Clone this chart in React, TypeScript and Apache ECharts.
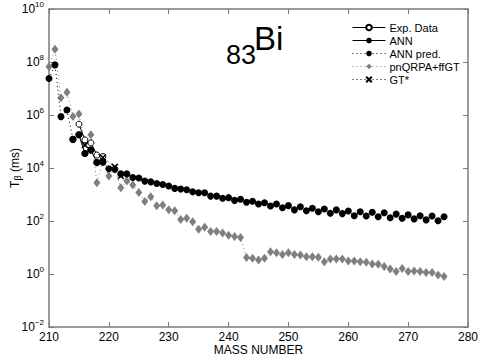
import React, { useEffect, useRef } from "react";
import * as echarts from "echarts";

const massAll = [
  210, 211, 212, 213, 214, 215, 216, 217, 218, 219, 220, 221, 222, 223, 224, 225, 226, 227, 228, 229,
  230, 231, 232, 233, 234, 235, 236, 237, 238, 239, 240, 241, 242, 243, 244, 245, 246, 247, 248, 249,
  250, 251, 252, 253, 254, 255, 256, 257, 258, 259, 260, 261, 262, 263, 264, 265, 266, 267, 268, 269,
  270, 271, 272, 273, 274, 275, 276,
];

const annPred = [
  2.4e7, 7.8e7, 8.7e5, 1.55e6, 1.2e5, 1.8e5, 3.5e4, 4.8e4, 1.6e4, 1.7e4, 9.3e3, 8.9e3, 6.0e3, 6.0e3,
  4.4e3, 4.2e3, 3.2e3, 3.0e3, 2.6e3, 2.4e3, 2.1e3, 1.7e3, 1.6e3, 1.5e3, 1.26e3, 1.17e3, 1.17e3, 870,
  870, 720, 760, 600, 660, 510, 560, 440, 490, 370, 440, 316, 380, 263, 347, 245, 302, 224, 282, 195,
  263, 190, 240, 158, 224, 155, 214, 145, 204, 132, 182, 126, 170, 120, 158, 110, 155, 102, 145,
];

const pnqrpa = [
  6.6e7, 3.0e8, 4.5e6, 7.2e6, 8.7e5, 1.1e6, 8.5e4, 1.8e5, 2.8e3, 2.0e4, 5.0e3, 8.9e3, 1.8e3, 3.2e3,
  2.3e3, 1.2e3, 540, 830, 380, 400, 263, 245, 115, 126, 93, 49, 58, 40, 40, 35, 29, 26, 24, 4.2, 3.9,
  3.4, 3.9, 6.9, 6.3, 5.5, 6.3, 5.5, 5.2, 4.5, 4.5, 4.3, 2.9, 3.7, 3.7, 3.7, 3.1, 3.1, 2.9, 2.75, 2.4,
  2.35, 1.9, 1.55, 1.23, 1.6, 1.23, 1.3, 1.23, 1.15, 1.15, 0.91, 0.8,
];

const massKnown = [214, 215, 216, 217, 218, 219];
const annKnown = [1.2e5, 1.8e5, 3.5e4, 4.8e4, 1.6e4, 1.7e4];

const massExp = [215, 216, 217, 218, 219];
const expData = [4.5e5, 1.15e5, 8.9e4, 3.1e4, 2.7e4];

const massGT = [216, 219, 221, 222];
const gtStar = [7.4e4, 2.5e4, 1.1e4, 5.0e3];

const xTicks = [210, 220, 230, 240, 250, 260, 270, 280];

const FONT = "'Liberation Sans', Arial, Helvetica, sans-serif";
const AXIS_GRAY = "#7a7a7a";
const MARK_GRAY = "#7f7f7f";

const pair = (xs: number[], ys: number[]) => xs.map((x, i) => [x, ys[i]]);

const supLabel = (v: number) => {
  const e = Math.round(Math.log10(v));
  const s = e < 0 ? "\u2212" + Math.abs(e) : String(e);
  return `{b|10}{s|${s}}`;
};

export default function App() {
  const ref = useRef<HTMLDivElement>(null);
  useEffect(() => {
    if (!ref.current) return;
    const chart = echarts.init(ref.current, undefined, { renderer: "svg" });
    const axisCommon = {
      axisLine: { show: true, onZero: false, lineStyle: { color: AXIS_GRAY, width: 1.5 } },
      axisTick: { show: true, inside: true, length: 5, lineStyle: { color: AXIS_GRAY, width: 1 } },
      splitLine: { show: false },
    };
    chart.setOption({
      animation: false,
      backgroundColor: "#ffffff",
      textStyle: { fontFamily: FONT },
      grid: { left: 49, right: 10, top: 9, bottom: 32, containLabel: false, outerBoundsMode: "none" },
      legend: {
        orient: "vertical",
        left: 347,
        top: 17,
        itemWidth: 33,
        itemHeight: 7,
        itemGap: 2,
        lineStyle: { width: 1 },
        textStyle: { fontFamily: FONT, fontSize: 11, color: "#000", lineHeight: 11, padding: [0, 0, 0, -1] },
        data: ["Exp. Data", "ANN", "ANN pred.", "pnQRPA+ffGT", "GT*"],
      },
      xAxis: [
        {
          type: "value",
          min: xTicks[0],
          max: xTicks[xTicks.length - 1],
          interval: 10,
          position: "bottom",
          name: "MASS NUMBER",
          nameLocation: "middle",
          nameGap: 17,
          nameMoveOverlap: false,
          nameTextStyle: { fontFamily: FONT, fontSize: 12, color: "#000" },
          axisLabel: { fontFamily: FONT, fontSize: 12, color: "#000", margin: 4 },
          ...axisCommon,
        },
        {
          type: "value",
          min: xTicks[0],
          max: xTicks[xTicks.length - 1],
          interval: 10,
          position: "top",
          axisLabel: { show: false },
          ...axisCommon,
        },
      ],
      yAxis: [
        {
          type: "log",
          logBase: 10,
          min: 0.01,
          max: 1e10,
          interval: 2,
          position: "left",
          name: "{a|T}{c|\u03b2}{a| (ms)}",
          nameLocation: "middle",
          nameGap: 27,
          nameMoveOverlap: false,
          nameRotate: 90,
          nameTextStyle: {
            fontFamily: FONT,
            color: "#000",
            rich: {
              a: { fontFamily: FONT, fontSize: 12, color: "#000" },
              c: { fontFamily: FONT, fontSize: 9, color: "#000", padding: [6, 0, 0, 0] },
            },
          },
          axisLabel: {
            margin: 5,
            formatter: supLabel,
            rich: {
              b: { fontFamily: FONT, fontSize: 12, color: "#000" },
              s: { fontFamily: FONT, fontSize: 8, color: "#000", padding: [0, 0, 9, 0] },
            },
          },
          ...axisCommon,
        },
        {
          type: "log",
          logBase: 10,
          min: 0.01,
          max: 1e10,
          interval: 2,
          position: "right",
          axisLabel: { show: false },
          ...axisCommon,
        },
      ],
      graphic: [
        {
          type: "text",
          left: 226,
          top: 41,
          style: { text: "83", font: `27px ${FONT}`, fill: "#000" },
        },
        {
          type: "text",
          left: 254,
          top: 22,
          style: { text: "Bi", font: `33px ${FONT}`, fill: "#000" },
        },
      ],
      series: [
        {
          name: "pnQRPA+ffGT",
          type: "line",
          data: pair(massAll, pnqrpa),
          symbol: "diamond",
          symbolSize: [7, 9],
          itemStyle: { color: MARK_GRAY },
          lineStyle: { color: MARK_GRAY, width: 1, type: [1, 3] },
          z: 2,
        },
        {
          name: "ANN pred.",
          type: "line",
          data: pair(massAll, annPred),
          symbol: "circle",
          symbolSize: 7,
          itemStyle: { color: "#000" },
          lineStyle: { color: "#000", width: 1, type: [1, 3] },
          z: 3,
        },
        {
          name: "ANN",
          type: "line",
          data: pair(massKnown, annKnown),
          symbol: "circle",
          symbolSize: 7,
          itemStyle: { color: "#000" },
          lineStyle: { color: "#000", width: 1 },
          z: 4,
        },
        {
          name: "Exp. Data",
          type: "line",
          data: pair(massExp, expData),
          symbol: "circle",
          symbolSize: 6,
          itemStyle: { color: "#fff", borderColor: "#000", borderWidth: 1 },
          lineStyle: { color: "#000", width: 1 },
          z: 5,
        },
        {
          name: "GT*",
          type: "line",
          data: pair(massGT, gtStar),
          symbol: "path://M0,0L10,10M10,0L0,10",
          symbolSize: 6,
          itemStyle: { color: "none", borderColor: "#000", borderWidth: 1.5 },
          lineStyle: { color: "#000", width: 1, type: [1, 3] },
          z: 6,
        },
      ],
    });
    return () => chart.dispose();
  }, []);
  return (
    <div
      ref={ref}
      style={{ position: "fixed", left: 0, top: 0, width: 478, height: 359, background: "#fff" }}
    />
  );
}
